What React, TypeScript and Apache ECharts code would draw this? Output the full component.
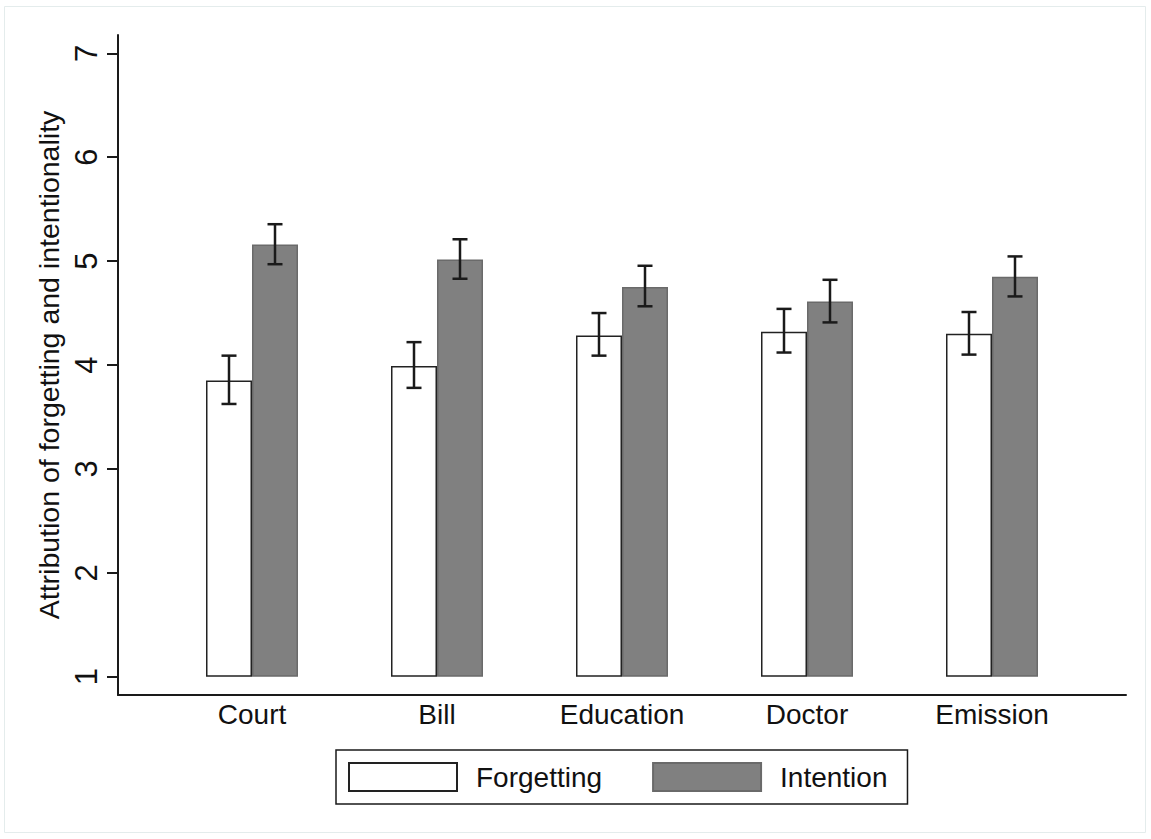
import React, { useEffect, useRef } from "react";
import * as echarts from "echarts";

const categories = ["Court", "Bill", "Education", "Doctor", "Emission"];
const forgetting = [3.85, 3.99, 4.285, 4.32, 4.3];
const forgettingLow = [3.625, 3.78, 4.09, 4.12, 4.1];
const forgettingHigh = [4.09, 4.22, 4.5, 4.54, 4.51];
const intention = [5.16, 5.015, 4.75, 4.61, 4.85];
const intentionLow = [4.97, 4.83, 4.565, 4.41, 4.66];
const intentionHigh = [5.355, 5.21, 4.955, 4.82, 5.045];
const yTicks = [1, 2, 3, 4, 5, 6, 7];
const BAR_BASE = 1;
const Y_MIN = 0.824;
const Y_MAX = 7.176;

const FONT = "'Liberation Sans', Arial, Helvetica, sans-serif";
const INK = "#1a1a1a";
const BAR_W = 46;

function errorSeries(name: string, lows: number[], highs: number[], offset: number) {
  return {
    name,
    type: "custom",
    xAxisIndex: 1,
    yAxisIndex: 1,
    z: 10,
    silent: true,
    encode: { x: 0, y: [1, 2] },
    data: lows.map((lo, i) => [i, lo, highs[i]]),
    renderItem: (_params: any, api: any) => {
      const i = api.value(0);
      const a = api.coord([i, api.value(1)]);
      const b = api.coord([i, api.value(2)]);
      const x = a[0] + offset;
      const style = { stroke: INK, lineWidth: 2.5 };
      return {
        type: "group",
        children: [
          { type: "line", shape: { x1: x, y1: a[1], x2: x, y2: b[1] }, style },
          { type: "line", shape: { x1: x - 7.5, y1: a[1], x2: x + 7.5, y2: a[1] }, style },
          { type: "line", shape: { x1: x - 7.5, y1: b[1], x2: x + 7.5, y2: b[1] }, style },
        ],
      };
    },
  };
}

export default function App() {
  const ref = useRef<HTMLDivElement>(null);
  useEffect(() => {
    if (!ref.current) return;
    const chart = echarts.init(ref.current, null, { renderer: "svg" });
    const hiddenAxis = {
      axisLine: { show: false },
      axisTick: { show: false },
      axisLabel: { show: false },
      splitLine: { show: false },
    };
    chart.setOption({
      animation: false,
      backgroundColor: "#ffffff",
      textStyle: { fontFamily: FONT, color: "#111" },
      graphic: [
        {
          type: "rect",
          shape: { x: 4.5, y: 6.5, width: 1141, height: 826 },
          style: { fill: "none", stroke: "#e4ecec", lineWidth: 1 },
          silent: true,
        },
      ],
      grid: [
        { left: 118, right: 25, top: 35, bottom: 144, outerBoundsMode: "none", containLabel: false },
        { left: 159.5, right: 66.5, top: 35, bottom: 144, outerBoundsMode: "none", containLabel: false },
      ],
      xAxis: [
        {
          type: "value",
          gridIndex: 0,
          min: 0,
          max: 1,
          axisLine: { show: true, lineStyle: { color: INK, width: 2 } },
          axisTick: { show: false },
          axisLabel: { show: false },
          splitLine: { show: false },
        },
        {
          type: "category",
          gridIndex: 1,
          data: categories,
          axisLine: { show: false },
          axisTick: { show: false },
          splitLine: { show: false },
          axisLabel: { fontSize: 28, color: "#111", margin: 5, fontFamily: FONT },
        },
      ],
      yAxis: [
        {
          type: "value",
          gridIndex: 0,
          min: Y_MIN,
          max: Y_MAX,
          name: "Attribution of forgetting and intentionality",
          nameLocation: "middle",
          nameGap: 50,
          nameTextStyle: { fontSize: 28.5, color: "#111", fontFamily: FONT },
          axisLine: { show: true, lineStyle: { color: INK, width: 2 } },
          axisTick: {
            show: true,
            customValues: yTicks,
            length: 11,
            lineStyle: { color: INK, width: 2 },
          },
          axisLabel: {
            customValues: yTicks,
            rotate: 90,
            margin: 16,
            fontSize: 31,
            color: "#111",
            fontFamily: FONT,
          },
          splitLine: { show: false },
        },
        { type: "value", gridIndex: 1, min: Y_MIN, max: Y_MAX, ...hiddenAxis },
      ],
      legend: {
        data: ["Forgetting", "Intention"],
        left: 336,
        top: 750,
        orient: "horizontal",
        icon: "rect",
        itemWidth: 108,
        itemHeight: 28,
        itemGap: 50,
        padding: [12, 20, 12, 12],
        borderColor: INK,
        borderWidth: 1.5,
        borderRadius: 0,
        selectedMode: false,
        textStyle: {
          fontSize: 28,
          color: "#111",
          fontFamily: FONT,
          lineHeight: 28,
          padding: [0, 0, 0, 14],
        },
      },
      series: [
        {
          name: "base-f",
          type: "bar",
          stack: "f",
          xAxisIndex: 1,
          yAxisIndex: 1,
          barWidth: BAR_W,
          barGap: "0%",
          silent: true,
          itemStyle: { color: "rgba(0,0,0,0)" },
          data: categories.map(() => BAR_BASE),
        },
        {
          name: "Forgetting",
          type: "bar",
          stack: "f",
          xAxisIndex: 1,
          yAxisIndex: 1,
          barWidth: BAR_W,
          barGap: "0%",
          itemStyle: { color: "#ffffff", borderColor: "#222", borderWidth: 1.5 },
          data: forgetting.map((v) => v - BAR_BASE),
        },
        {
          name: "base-i",
          type: "bar",
          stack: "i",
          xAxisIndex: 1,
          yAxisIndex: 1,
          barWidth: BAR_W,
          barGap: "0%",
          silent: true,
          itemStyle: { color: "rgba(0,0,0,0)" },
          data: categories.map(() => BAR_BASE),
        },
        {
          name: "Intention",
          type: "bar",
          stack: "i",
          xAxisIndex: 1,
          yAxisIndex: 1,
          barWidth: BAR_W,
          barGap: "0%",
          itemStyle: { color: "#808080", borderColor: "#6a6a6a", borderWidth: 1.5 },
          data: intention.map((v) => v - BAR_BASE),
        },
        errorSeries("Forgetting CI", forgettingLow, forgettingHigh, -BAR_W / 2),
        errorSeries("Intention CI", intentionLow, intentionHigh, BAR_W / 2),
      ],
    });
    return () => chart.dispose();
  }, []);
  return (
    <div
      ref={ref}
      style={{ position: "fixed", left: 0, top: 0, width: 1151, height: 839, background: "#fff" }}
    />
  );
}
